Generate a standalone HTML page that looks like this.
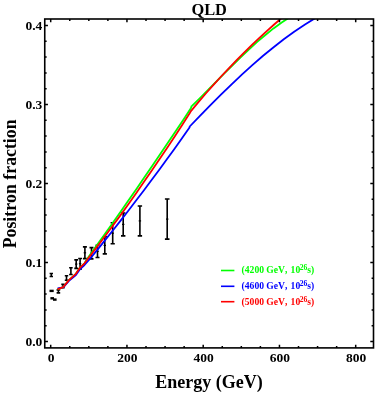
<!DOCTYPE html>
<html><head><meta charset="utf-8"><title>QLD</title>
<style>
html,body{margin:0;padding:0;background:#fff;}
body{width:375px;height:393px;overflow:hidden;}
svg{display:block;}
text{font-family:"Liberation Serif",serif;font-weight:bold;font-kerning:none;}
svg{will-change:transform;opacity:0.999;}
</style></head><body>
<svg width="375" height="393" viewBox="0 0 375 393">
<rect width="375" height="393" fill="#fff"/>
<defs><clipPath id="c"><rect x="44.75" y="19.00" width="328.75" height="328.90"/></clipPath></defs>

<g stroke="#000" stroke-width="1.6" fill="none">
<path d="M51.3,273.5 V276.5 M49.6,273.5 H53.0 M49.6,276.5 H53.0"/>
<path d="M49.5,290.9 H53.7" stroke-width="2.4"/>
<path d="M50.4,298.3 H54.0" stroke-width="2.4"/>
<path d="M53.0,299.6 H56.6" stroke-width="2.4"/>
<path d="M58.4,289.9 V292.9 M56.6,289.9 H60.2 M56.6,292.9 H60.2"/>
<path d="M63.0,284.4 V287.8 M61.3,284.4 H64.7 M61.3,287.8 H64.7"/>
<path d="M66.5,275.8 V280.2 M64.8,275.8 H68.2 M64.8,280.2 H68.2"/>
<path d="M70.9,267.7 V274.5 M69.1,267.7 H72.7 M69.1,274.5 H72.7"/>
<path d="M76.2,259.9 V268.4 M74.3,259.9 H78.1 M74.3,268.4 H78.1"/>
<path d="M75.0,264.1 H77.4" stroke-width="1.2"/>
<path d="M80.1,258.5 V268.9 M78.2,258.5 H82.0 M78.2,268.9 H82.0"/>
<path d="M78.9,263.7 H81.3" stroke-width="1.2"/>
<path d="M84.9,246.9 V258.6 M82.9,246.9 H86.9 M82.9,258.6 H86.9"/>
<path d="M83.7,252.8 H86.1" stroke-width="1.2"/>
<path d="M91.5,247.6 V258.9 M89.5,247.6 H93.5 M89.5,258.9 H93.5"/>
<path d="M90.3,253.2 H92.7" stroke-width="1.2"/>
<path d="M97.5,245.3 V257.5 M95.5,245.3 H99.5 M95.5,257.5 H99.5"/>
<path d="M96.3,251.4 H98.7" stroke-width="1.2"/>
<path d="M104.8,236.8 V253.9 M102.7,236.8 H106.9 M102.7,253.9 H106.9"/>
<path d="M103.6,245.4 H106.0" stroke-width="1.2"/>
<path d="M112.7,222.7 V243.8 M110.6,222.7 H114.8 M110.6,243.8 H114.8"/>
<path d="M111.5,233.2 H113.9" stroke-width="1.2"/>
<path d="M123.2,213.0 V235.9 M121.0,213.0 H125.4 M121.0,235.9 H125.4"/>
<path d="M122.0,224.4 H124.4" stroke-width="1.2"/>
<path d="M139.9,206.0 V235.9 M137.7,206.0 H142.1 M137.7,235.9 H142.1"/>
<path d="M138.7,220.9 H141.1" stroke-width="1.2"/>
<path d="M167.2,199.0 V239.1 M164.9,199.0 H169.5 M164.9,239.1 H169.5"/>
<path d="M166.0,219.1 H168.4" stroke-width="1.2"/>
</g>
<g clip-path="url(#c)" fill="none" stroke-width="1.8" stroke-linejoin="round">
<path d="M57.5,289.4 L63.2,287.1 L68.9,280.1 L75.9,273.8 L80.1,267.6 L84.5,263.3 L89.0,256.3 L96.8,245.3 L104.7,234.3 L112.5,223.2 L120.4,212.0 L128.2,200.7 L136.1,189.4 L143.9,178.0 L151.8,166.5 L159.6,155.0 L167.5,143.3 L175.3,131.7 L183.2,119.9 L191.0,108.1 L191.5,106.3 L192.0,105.9 L200.2,97.8 L208.3,89.6 L216.5,81.3 L224.6,73.1 L232.8,65.0 L240.9,57.0 L249.1,49.3 L257.2,41.9 L265.4,35.0 L273.5,28.4 L281.7,22.5 L289.8,17.2 L298.0,12.5" stroke="#00ff00"/>
<path d="M57.6,288.4 L63.2,287.4 L68.9,280.8 L75.9,275.0 L80.1,269.0 L84.5,265.0 L90.0,258.7 L97.7,249.4 L105.3,239.9 L113.0,230.3 L120.6,220.6 L128.3,210.8 L135.9,200.8 L143.6,190.7 L151.2,180.5 L158.9,170.2 L166.5,159.7 L174.2,149.2 L181.8,138.5 L189.5,127.6 L189.7,126.5 L200.2,115.6 L210.7,104.9 L221.2,94.4 L231.6,84.3 L242.1,74.4 L252.6,64.9 L263.1,55.8 L273.6,47.2 L284.1,39.0 L294.5,31.4 L305.0,24.4 L315.5,18.0 L326.0,12.2" stroke="#0000ff"/>
<path d="M57.5,289.4 L63.2,287.1 L68.9,280.1 L75.9,273.8 L80.1,267.6 L84.5,263.3 L89.0,257.3 L96.8,247.1 L104.6,236.8 L112.4,226.3 L120.2,215.6 L128.0,204.8 L135.8,193.8 L143.5,182.6 L151.3,171.3 L159.1,159.8 L166.9,148.2 L174.7,136.4 L182.5,124.4 L190.3,112.3 L190.5,111.6 L198.2,102.4 L205.8,93.5 L213.5,84.9 L221.1,76.5 L228.8,68.3 L236.4,60.4 L244.1,52.7 L251.7,45.2 L259.4,37.9 L267.0,30.9 L274.7,24.0 L282.3,17.4 L290.0,10.9" stroke="#ff0000"/>
</g>
<rect x="44.75" y="19.00" width="328.75" height="328.90" fill="none" stroke="#000" stroke-width="1.6"/>
<path d="M50.70,347.90 v-3.20 M50.70,19.00 v3.20 M69.76,347.90 v-1.90 M69.76,19.00 v1.90 M88.83,347.90 v-1.90 M88.83,19.00 v1.90 M107.89,347.90 v-1.90 M107.89,19.00 v1.90 M126.95,347.90 v-3.20 M126.95,19.00 v3.20 M146.01,347.90 v-1.90 M146.01,19.00 v1.90 M165.07,347.90 v-1.90 M165.07,19.00 v1.90 M184.14,347.90 v-1.90 M184.14,19.00 v1.90 M203.20,347.90 v-3.20 M203.20,19.00 v3.20 M222.26,347.90 v-1.90 M222.26,19.00 v1.90 M241.32,347.90 v-1.90 M241.32,19.00 v1.90 M260.39,347.90 v-1.90 M260.39,19.00 v1.90 M279.45,347.90 v-3.20 M279.45,19.00 v3.20 M298.51,347.90 v-1.90 M298.51,19.00 v1.90 M317.57,347.90 v-1.90 M317.57,19.00 v1.90 M336.64,347.90 v-1.90 M336.64,19.00 v1.90 M355.70,347.90 v-3.20 M355.70,19.00 v3.20 M44.75,341.50 h3.20 M373.50,341.50 h-3.20 M44.75,325.70 h1.90 M373.50,325.70 h-1.90 M44.75,309.90 h1.90 M373.50,309.90 h-1.90 M44.75,294.10 h1.90 M373.50,294.10 h-1.90 M44.75,278.30 h1.90 M373.50,278.30 h-1.90 M44.75,262.50 h3.20 M373.50,262.50 h-3.20 M44.75,246.70 h1.90 M373.50,246.70 h-1.90 M44.75,230.90 h1.90 M373.50,230.90 h-1.90 M44.75,215.10 h1.90 M373.50,215.10 h-1.90 M44.75,199.30 h1.90 M373.50,199.30 h-1.90 M44.75,183.50 h3.20 M373.50,183.50 h-3.20 M44.75,167.70 h1.90 M373.50,167.70 h-1.90 M44.75,151.90 h1.90 M373.50,151.90 h-1.90 M44.75,136.10 h1.90 M373.50,136.10 h-1.90 M44.75,120.30 h1.90 M373.50,120.30 h-1.90 M44.75,104.50 h3.20 M373.50,104.50 h-3.20 M44.75,88.70 h1.90 M373.50,88.70 h-1.90 M44.75,72.90 h1.90 M373.50,72.90 h-1.90 M44.75,57.10 h1.90 M373.50,57.10 h-1.90 M44.75,41.30 h1.90 M373.50,41.30 h-1.90 M44.75,25.50 h3.20 M373.50,25.50 h-3.20" stroke="#000" stroke-width="1.5" fill="none"/>
<g font-size="13.5px" fill="#000">
<text x="51.00" y="362.3" text-anchor="middle">0</text>
<text x="127.25" y="362.3" text-anchor="middle">200</text>
<text x="203.50" y="362.3" text-anchor="middle">400</text>
<text x="279.75" y="362.3" text-anchor="middle">600</text>
<text x="356.00" y="362.3" text-anchor="middle">800</text>
<text x="42.3" y="346.20" text-anchor="end">0.0</text>
<text x="42.3" y="267.20" text-anchor="end">0.1</text>
<text x="42.3" y="188.20" text-anchor="end">0.2</text>
<text x="42.3" y="109.20" text-anchor="end">0.3</text>
<text x="42.3" y="30.20" text-anchor="end">0.4</text>
</g>
<text x="209.2" y="15.4" font-size="16.4px" text-anchor="middle">QLD</text>
<text x="209.1" y="388" font-size="18px" text-anchor="middle">Energy (GeV)</text>
<text transform="translate(16.0,183.9) rotate(-90)" font-size="17.8px" text-anchor="middle">Positron fraction</text>
<path d="M221,270.5 H234.4" stroke="#00ff00" stroke-width="1.6"/>
<g font-size="9.6px" fill="#00ff00"><text x="241.6" y="273.2">(4200 GeV,</text><text x="290.6" y="273.2">10</text><text x="299.7" y="270.2" font-size="7.6px">26</text><text x="307.2" y="273.2">s)</text></g>
<path d="M221,286.3 H234.4" stroke="#0000ff" stroke-width="1.6"/>
<g font-size="9.6px" fill="#0000ff"><text x="241.6" y="288.9">(4600 GeV,</text><text x="290.6" y="288.9">10</text><text x="299.7" y="285.9" font-size="7.6px">26</text><text x="307.2" y="288.9">s)</text></g>
<path d="M221,301.7 H234.4" stroke="#ff0000" stroke-width="1.6"/>
<g font-size="9.6px" fill="#ff0000"><text x="241.6" y="304.6">(5000 GeV,</text><text x="290.6" y="304.6">10</text><text x="299.7" y="301.6" font-size="7.6px">26</text><text x="307.2" y="304.6">s)</text></g>
</svg></body></html>
